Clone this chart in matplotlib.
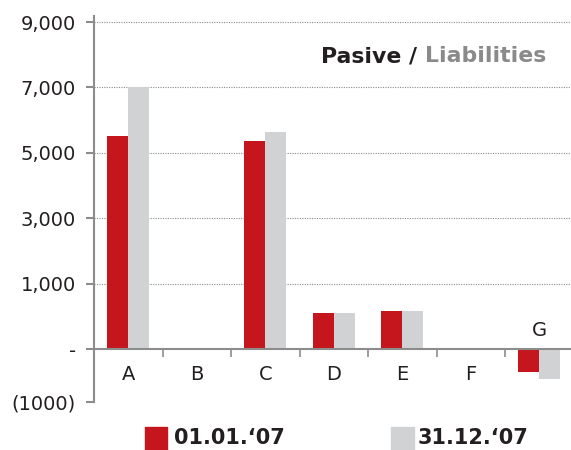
import numpy as np
import matplotlib
matplotlib.use("Agg")
import matplotlib.pyplot as plt
from matplotlib.transforms import blended_transform_factory
from matplotlib.patches import Rectangle

categories = ["A", "B", "C", "D", "E", "F", "G"]
series_names = ["01.01.\u201807", "31.12.\u201807"]
values_start = [5500, 0, 5370, 550, 580, 0, -430]
values_end = [7000, 0, 5650, 550, 580, 0, -570]
ytick_values = [-1000, 0, 1000, 3000, 5000, 7000, 9000]
ytick_labels = ["(1000)", "-", "1,000", "3,000", "5,000", "7,000", "9,000"]
grid_values = [1000, 3000, 5000, 7000, 9000]

RED = "#C4161C"
GREY = "#D1D2D4"
AXIS = "#8C8C8C"
TXT = "#231F20"

# Axis as drawn in the reference: piecewise scale
def fwd(v):
    v = np.asarray(v, dtype=float)
    return np.where(v >= 1000, v + 1000, np.where(v >= 0, 2 * v, 1.62 * v))

def inv(p):
    p = np.asarray(p, dtype=float)
    return np.where(p >= 2000, p - 1000, np.where(p >= 0, p / 2, p / 1.62))

plt.rcParams["font.family"] = ["DejaVu Sans"]
fig = plt.figure(figsize=(5.71, 4.5), dpi=100)
ax = fig.add_axes([94 / 571, 1 - 402 / 450, 479.5 / 571, (402 - 15.5) / 450])
ax.set_yscale("function", functions=(fwd, inv))

x = np.arange(len(categories))
w = 0.31
ax.bar(x - w / 2, values_start, width=w, color=RED, zorder=3)
ax.bar(x + w / 2, values_end, width=w, color=GREY, zorder=3)

ax.set_xlim(-0.5, len(categories) - 0.5)
ax.set_ylim(-1000, 9200)

for g in grid_values:
    ax.axhline(g, color="#8a8a8a", lw=0.8, ls=(0, (1, 1.2)), zorder=1)

ax.set_yticks(ytick_values)
ax.set_yticklabels(ytick_labels, fontsize=14, color=TXT)
ax.yaxis.set_minor_locator(matplotlib.ticker.NullLocator())
ax.tick_params(axis="y", direction="out", length=6, width=1.5, color=AXIS, pad=7)

for s in ["top", "right"]:
    ax.spines[s].set_visible(False)
ax.spines["left"].set_color(AXIS)
ax.spines["left"].set_linewidth(1.5)
ax.spines["bottom"].set_position(("data", 0))
ax.spines["bottom"].set_color(AXIS)
ax.spines["bottom"].set_linewidth(1.5)
ax.spines["bottom"].set_zorder(4)

ax.set_xticks(x)
ax.set_xticklabels([])
ax.set_xticks(np.arange(len(categories) - 1) + 0.5, minor=True)
ax.tick_params(axis="x", which="major", length=0)
ax.tick_params(axis="x", which="minor", direction="out", length=6, width=1.2, color=AXIS)

trans = blended_transform_factory(ax.transData, fig.transFigure)
for xi, cat, v1, v2 in zip(x, categories, values_start, values_end):
    if min(v1, v2) < 0:
        yfig = 1 - 331 / 450
    else:
        yfig = 1 - 375 / 450
    ax.text(xi, yfig, cat, transform=trans, ha="center", va="center",
            fontsize=14, color=TXT)

# title
fig.text(425 / 571, 1 - 56 / 450, "Pasive / ", fontsize=15.8, fontweight="bold",
         color=TXT, ha="right", va="center")
fig.text(425 / 571, 1 - 56 / 450, "Liabilities", fontsize=15.8, fontweight="bold",
         color="#8A8A8A", ha="left", va="center")

# legend
fig.patches.append(Rectangle((145 / 571, 1 - 450 / 450), 22 / 571, 23 / 450,
                             transform=fig.transFigure, color=RED))
fig.text(174 / 571, 1 - 438 / 450, series_names[0], fontsize=15, fontweight="bold",
         color=TXT, ha="left", va="center")
fig.patches.append(Rectangle((391 / 571, 1 - 450 / 450), 23 / 571, 23 / 450,
                             transform=fig.transFigure, color=GREY))
fig.text(418 / 571, 1 - 438 / 450, series_names[1], fontsize=15, fontweight="bold",
         color=TXT, ha="left", va="center")

fig.savefig("out.png", dpi=100)
